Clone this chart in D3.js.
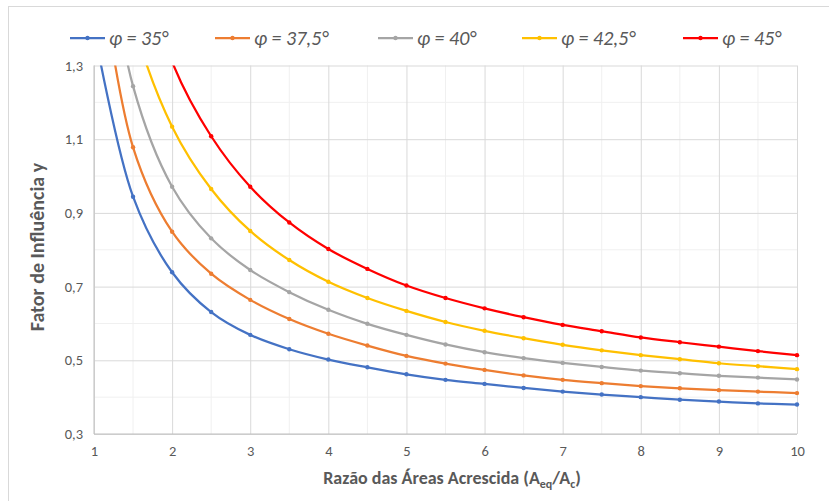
<!DOCTYPE html>
<html lang="en">
    <head>
        <meta charset="utf-8">
        <title>D3</title>
        <script type="text/javascript" src="https://cdnjs.cloudflare.com/ajax/libs/d3/7.8.5/d3.min.js"></script>
        <style type="text/css">
            body { margin: 0; background: #fff; }
            text { font-family: Calibri, Carlito, Lato, sans-serif; }
        </style>
    </head>
    <body>
        <script type="text/javascript">
            var w = 829;
            var h = 501;

            // data
            var xValues = [1, 1.5, 2, 2.5, 3, 3.5, 4, 4.5, 5, 5.5, 6, 6.5, 7, 7.5, 8, 8.5, 9, 9.5, 10];
            var phi35 = [1.40, 0.944, 0.739, 0.631, 0.569, 0.530, 0.502, 0.481, 0.462, 0.447, 0.436, 0.425, 0.415, 0.407, 0.400, 0.393, 0.388, 0.383, 0.380];
            var phi375 = [1.68, 1.078, 0.849, 0.735, 0.664, 0.612, 0.572, 0.540, 0.512, 0.491, 0.474, 0.459, 0.447, 0.438, 0.430, 0.424, 0.419, 0.415, 0.411];
            var phi40 = [1.85, 1.244, 0.971, 0.831, 0.745, 0.685, 0.637, 0.599, 0.569, 0.543, 0.522, 0.506, 0.493, 0.482, 0.472, 0.465, 0.458, 0.453, 0.448];
            var phi425 = [1.95, 1.42, 1.134, 0.965, 0.851, 0.772, 0.713, 0.669, 0.634, 0.604, 0.580, 0.560, 0.542, 0.527, 0.514, 0.503, 0.492, 0.484, 0.476];
            var phi45 = [2.35, 1.68, 1.31, 1.108, 0.971, 0.874, 0.802, 0.748, 0.703, 0.669, 0.641, 0.617, 0.596, 0.579, 0.562, 0.549, 0.537, 0.525, 0.514];
            var seriesNames = ["φ = 35°", "φ = 37,5°", "φ = 40°", "φ = 42,5°", "φ = 45°"];
            var seriesColors = ["#4472C4", "#ED7D31", "#A5A5A5", "#FFC000", "#FF0000"];
            var xTicks = [1, 2, 3, 4, 5, 6, 7, 8, 9, 10];
            var yTicks = [0.3, 0.5, 0.7, 0.9, 1.1, 1.3];

            var allSeries = [phi35, phi375, phi40, phi425, phi45];
            var dataset = allSeries.map(function(vals, i) {
                return {
                    name: seriesNames[i],
                    color: seriesColors[i],
                    points: vals.map(function(v, j) { return {x: xValues[j], y: v}; })
                };
            });

            var plotL = 94, plotR = 797, plotT = 65.5, plotB = 434;

            var x = d3.scaleLinear().domain([1, 10]).range([plotL, plotR]);
            var y = d3.scaleLinear().domain([0.3, 1.3]).range([plotB, plotT]);

            var svg = d3.select("body")
                        .append("svg")
                        .attr("width", w)
                        .attr("height", h);

            svg.append("rect")
               .attr("x", 0).attr("y", 0)
               .attr("width", w).attr("height", h)
               .attr("fill", "#fff");

            // chart frame (only top/left visible in the crop)
            svg.append("rect")
               .attr("x", 8.5).attr("y", 6.5)
               .attr("width", w + 20).attr("height", h + 20)
               .attr("fill", "none")
               .attr("stroke", "#d9d9d9");

            // minor grid
            svg.append("g").selectAll("line")
               .data(d3.range(1.5, 10, 1))
               .enter().append("line")
               .attr("x1", function(d) { return x(d); })
               .attr("x2", function(d) { return x(d); })
               .attr("y1", plotT).attr("y2", plotB)
               .attr("stroke", "#f0f0f0");
            svg.append("g").selectAll("line")
               .data(d3.range(0.4, 1.3, 0.2))
               .enter().append("line")
               .attr("y1", function(d) { return y(d); })
               .attr("y2", function(d) { return y(d); })
               .attr("x1", plotL).attr("x2", plotR)
               .attr("stroke", "#f0f0f0");

            // major grid + tick labels
            var xAxis = d3.axisBottom(x).tickValues(xTicks).tickSize(-(plotB - plotT)).tickFormat(d3.format("d"));
            var yAxis = d3.axisLeft(y).tickValues(yTicks).tickSize(-(plotR - plotL))
                          .tickFormat(function(d) { return d3.format(".1f")(d).replace(".", ","); });

            var gx = svg.append("g")
               .attr("transform", "translate(0," + plotB + ")")
               .call(xAxis);
            var gy = svg.append("g")
               .attr("transform", "translate(" + plotL + ",0)")
               .call(yAxis);

            [gx, gy].forEach(function(g) {
                g.select(".domain").remove();
                g.selectAll(".tick line").attr("stroke", "#d9d9d9");
                g.selectAll(".tick text")
                 .attr("fill", "#595959")
                 .attr("font-size", "14.5px");
            });
            gx.selectAll(".tick text").attr("y", 12).attr("dy", "0.71em");
            gy.selectAll(".tick text").attr("x", -11);

            // axis lines
            svg.append("line")
               .attr("x1", plotL).attr("x2", plotR)
               .attr("y1", plotB).attr("y2", plotB)
               .attr("stroke", "#bfbfbf");
            svg.append("line")
               .attr("x1", plotL).attr("x2", plotL)
               .attr("y1", plotT).attr("y2", plotB)
               .attr("stroke", "#bfbfbf");

            svg.append("clipPath").attr("id", "plot")
               .append("rect")
               .attr("x", plotL).attr("y", plotT)
               .attr("width", plotR - plotL + 6).attr("height", plotB - plotT);

            var line = d3.line()
                         .x(function(d) { return x(d.x); })
                         .y(function(d) { return y(d.y); })
                         .curve(d3.curveCatmullRom.alpha(0.5));

            var series = svg.append("g")
                            .attr("clip-path", "url(#plot)")
                            .selectAll("g")
                            .data(dataset)
                            .enter()
                            .append("g");

            series.append("path")
                  .attr("d", function(d) { return line(d.points); })
                  .attr("fill", "none")
                  .attr("stroke", function(d) { return d.color; })
                  .attr("stroke-width", 2.25);

            series.selectAll("circle")
                  .data(function(d) { return d.points.map(function(p) { return {x: p.x, y: p.y, color: d.color}; }); })
                  .enter()
                  .append("circle")
                  .attr("cx", function(d) { return x(d.x); })
                  .attr("cy", function(d) { return y(d.y); })
                  .attr("r", 2.2)
                  .attr("fill", function(d) { return d.color; });

            // legend
            var legendX = [70, 215, 378, 522, 683];
            var legend = svg.append("g").selectAll("g")
                            .data(dataset)
                            .enter()
                            .append("g")
                            .attr("transform", function(d, i) { return "translate(" + legendX[i] + ",38)"; });
            legend.append("line")
                  .attr("x1", 0).attr("x2", 35)
                  .attr("stroke", function(d) { return d.color; })
                  .attr("stroke-width", 2.25);
            legend.append("circle")
                  .attr("cx", 17.5).attr("r", 2.2)
                  .attr("fill", function(d) { return d.color; });
            legend.append("text")
                  .attr("x", 39)
                  .attr("dy", "0.35em")
                  .attr("font-size", "20px")
                  .attr("font-style", "italic")
                  .attr("font-weight", 300)
                  .attr("fill", "#595959")
                  .text(function(d) { return d.name; });

            // axis titles
            var xt = svg.append("text")
               .attr("x", 452)
               .attr("y", 484)
               .attr("text-anchor", "middle")
               .attr("font-size", "18px")
               .attr("font-weight", "bold")
               .attr("fill", "#595959");
            xt.append("tspan").text("Razão das Áreas Acrescida (A");
            xt.append("tspan").attr("font-size", "12px").attr("dy", 4).text("eq");
            xt.append("tspan").attr("dy", -4).text("/A");
            xt.append("tspan").attr("font-size", "12px").attr("dy", 4).text("c");
            xt.append("tspan").attr("dy", -4).text(")");

            svg.append("text")
               .attr("transform", "translate(44,247) rotate(-90)")
               .attr("text-anchor", "middle")
               .attr("font-size", "20px")
               .attr("font-weight", "bold")
               .attr("fill", "#595959")
               .text("Fator de Influência y");
        </script>
    </body>
</html>
